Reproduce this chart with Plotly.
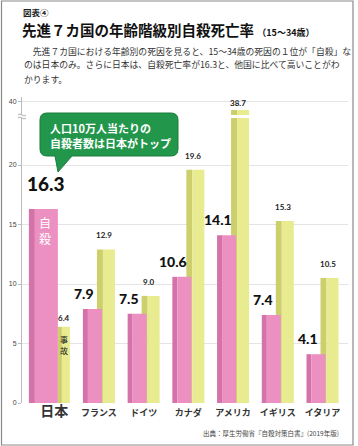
import plotly.graph_objects as go

# ---------------- data ----------------
countries = ["日本", "フランス", "ドイツ", "カナダ", "アメリカ", "イギリス", "イタリア"]
suicide_rate = [16.3, 7.9, 7.5, 10.6, 14.1, 7.4, 4.1]      # pink (自殺)
other_rate = [6.4, 12.9, 9.0, 19.6, 38.7, 15.3, 10.5]       # yellow (1位の死因)
lower_ticks = [0, 5, 10, 15, 20]
upper_ticks = [40]

# ---------------- geometry helpers (styling) ----------------
W, H = 358, 446
ML, MR, MT, MB = 22, 10, 97, 43
PW, PH = W - ML - MR, H - MT - MB


def X(px):
    return (px - ML) / PW


def Y(py):
    return (H - MB - py) / PH


low_top_px, up_bot_px = 118, 115
low_dom = [0, Y(low_top_px)]
up_dom = [Y(up_bot_px), 1]

unit = 44.7  # px per category
pink_off = [-25.3 / unit] + [-16 / unit] * 6
pink_w = [29 / unit] + [19 / unit] * 6
pink_side = [6 / unit] + [5 / unit] * 6
yel_off = [3.7 / unit] + [-2 / unit] * 6
yel_w = [12 / unit] + [18 / unit] * 6
yel_side = [4 / unit] + [6 / unit] * 6

PINK, PINK_D = "#ec90c2", "#d572a9"
YEL, YEL_D = "#e9eb90", "#cdcf6c"

fig = go.Figure()
for ya in ["y", "y2"]:
    fig.add_trace(go.Bar(x=countries, y=other_rate, offset=yel_off, width=yel_side,
                         marker=dict(color=YEL_D, line_width=0), yaxis=ya, hoverinfo="skip"))
    fig.add_trace(go.Bar(x=countries, y=other_rate,
                         offset=[o + s for o, s in zip(yel_off, yel_side)],
                         width=[w - s for w, s in zip(yel_w, yel_side)],
                         marker=dict(color=YEL, line_width=0), yaxis=ya, hoverinfo="skip"))
    fig.add_trace(go.Bar(x=countries, y=suicide_rate, offset=pink_off, width=pink_side,
                         marker=dict(color=PINK_D, line_width=0), yaxis=ya, hoverinfo="skip"))
    fig.add_trace(go.Bar(x=countries, y=suicide_rate,
                         offset=[o + s for o, s in zip(pink_off, pink_side)],
                         width=[w - s for w, s in zip(pink_w, pink_side)],
                         marker=dict(color=PINK, line_width=0), yaxis=ya, hoverinfo="skip"))

ann = []
# value labels
for i, (c, v) in enumerate(zip(countries, suicide_rate)):
    big = i == 0
    ann.append(dict(x=c, y=v, xref="x", yref="y", text=f"{v:.1f}", showarrow=False,
                    xanchor="center", yanchor="bottom", xshift=-8 if big else -15,
                    yshift=12 if big else 5,
                    font=dict(family="Lato", size=19 if big else 14, color="#111", weight=900)))
for i, (c, v) in enumerate(zip(countries, other_rate)):
    yr = "y2" if v > 24 else "y"
    ann.append(dict(x=c, y=v, xref="x", yref=yr, text=f"{v:.1f}", showarrow=False,
                    xanchor="center", yanchor="bottom", xshift=10 if i == 0 else 5,
                    yshift=2 if i == 0 else (0 if v > 24 else 7),
                    font=dict(family="Lato", size=8, color="#222", weight="bold")))

# bar inner texts (vertical, one glyph per annotation)
for ch, py in [("自", 222), ("殺", 238)]:
    ann.append(dict(x=X(45), y=Y(py), xref="paper", yref="paper", text=ch, showarrow=False,
                    xanchor="center", yanchor="middle", borderpad=0,
                    font=dict(family="Noto Sans CJK JP", size=12, color="white")))
for ch, py in [("事", 339), ("故", 350)]:
    ann.append(dict(x=X(64), y=Y(py), xref="paper", yref="paper", text=ch, showarrow=False,
                    xanchor="center", yanchor="middle", borderpad=0,
                    font=dict(family="Noto Sans CJK JP", size=8, color="#222")))

# callout text
ann.append(dict(x=X(48), y=Y(128), xref="paper", yref="paper", text="人口10万人当たりの",
                showarrow=False, xanchor="left", yanchor="middle",
                font=dict(family="Noto Sans CJK JP", size=11, color="white", weight="bold")))
ann.append(dict(x=X(48), y=Y(143), xref="paper", yref="paper", text="自殺者数は日本がトップ",
                showarrow=False, xanchor="left", yanchor="middle",
                font=dict(family="Noto Sans CJK JP", size=11, color="white", weight="bold")))

# header texts
ann.append(dict(x=X(22), y=Y(12), xref="paper", yref="paper", text="図表④", showarrow=False,
                xanchor="left", yanchor="middle", borderpad=0,
                font=dict(family="Noto Sans CJK JP", size=8.5, color="#222", weight="bold")))
ann.append(dict(x=X(21), y=Y(29.5), xref="paper", yref="paper",
                text="先進７カ国の年齢階級別自殺死亡率 <span style='font-size:9px'>（15～34歳）</span>",
                showarrow=False, xanchor="left", yanchor="middle", borderpad=0,
                font=dict(family="Noto Sans CJK JP", size=14.5, color="#111", weight="bold")))
body = ["　先進７カ国における年齢別の死因を見ると、15～34歳の死因の１位が「自殺」な",
        "のは日本のみ。さらに日本は、自殺死亡率が16.3と、他国に比べて高いことがわ",
        "かります。"]
for k, line in enumerate(body):
    ann.append(dict(x=X(22), y=Y(51 + 14 * k), xref="paper", yref="paper", text=line,
                    showarrow=False, xanchor="left", yanchor="middle",
                    font=dict(family="Noto Sans CJK JP", size=8.8, color="#333")))
ann.append(dict(x=X(341), y=Y(433), xref="paper", yref="paper",
                text="出典：厚生労働省『自殺対策白書』(2019年版)", showarrow=False,
                xanchor="right", yanchor="middle",
                font=dict(family="Noto Sans CJK JP", size=6.5, color="#444")))


def P(px, py):
    return f"{X(px):.5f},{Y(py):.5f}"


L, R, T, B, r = 40, 178, 113, 156, 7
callout = (f"M {P(L + r, T)} L {P(R - r, T)} Q {P(R, T)} {P(R, T + r)} L {P(R, B - r)} "
           f"Q {P(R, B)} {P(R - r, B)} L {P(72, B)} L {P(58, 172)} L {P(55, B)} L {P(L + r, B)} "
           f"Q {P(L, B)} {P(L, B - r)} L {P(L, T + r)} Q {P(L, T)} {P(L + r, T)} Z")
shapes = [
    dict(type="path", path=callout, xref="paper", yref="paper", fillcolor="#22964b",
         line=dict(color="#1b7c3d", width=1)),
    dict(type="rect", xref="paper", yref="paper", x0=X(1.5), x1=X(353), y0=Y(1), y1=Y(445),
         line=dict(color="#8a8a8a", width=1.2), fillcolor="rgba(0,0,0,0)"),
    dict(type="path", xref="paper", yref="paper",
         path=f"M {P(18, 115)} Q {P(20, 113)} {P(22, 115)} Q {P(24, 117)} {P(26, 115)}",
         line=dict(color="#999", width=0.8)),
    dict(type="path", xref="paper", yref="paper",
         path=f"M {P(18, 118)} Q {P(20, 116)} {P(22, 118)} Q {P(24, 120)} {P(26, 118)}",
         line=dict(color="#999", width=0.8)),
]

ticktext = ["<span style='font-size:14px'><b>日本</b></span>"] + [f"<b>{c}</b>" for c in countries[1:]]

fig.update_layout(
    width=W, height=H, margin=dict(l=ML, r=MR, t=MT, b=MB),
    paper_bgcolor="white", plot_bgcolor="white", showlegend=False,
    barmode="overlay", annotations=ann, shapes=shapes,
    xaxis=dict(type="category", range=[-0.72, 6.57], tickvals=countries, ticktext=ticktext,
               showgrid=False, showline=False, ticks="", anchor="y", automargin=False,
               tickfont=dict(family="Noto Sans CJK JP", size=9, color="#333"), ticklabelstandoff=3),
    yaxis=dict(domain=low_dom, range=[0, 23.95], tickvals=lower_ticks, showgrid=True,
               gridcolor="#e4e4e4", gridwidth=1, zeroline=False, showline=True, linecolor="#bbb",
               ticks="outside", ticklen=3, tickcolor="#bbb", automargin=False,
               tickfont=dict(family="Liberation Sans", size=7, color="#444")),
    yaxis2=dict(domain=up_dom, range=[37.9, 40.74], tickvals=upper_ticks, anchor="x",
                showgrid=True, gridcolor="#e4e4e4", zeroline=False, showline=True,
                linecolor="#bbb", ticks="outside", ticklen=3, tickcolor="#bbb", automargin=False,
                tickfont=dict(family="Liberation Sans", size=7, color="#444")),
)

fig.write_html("out.html", config={"displayModeBar": False},
               post_script="document.body.style.margin='0';")
